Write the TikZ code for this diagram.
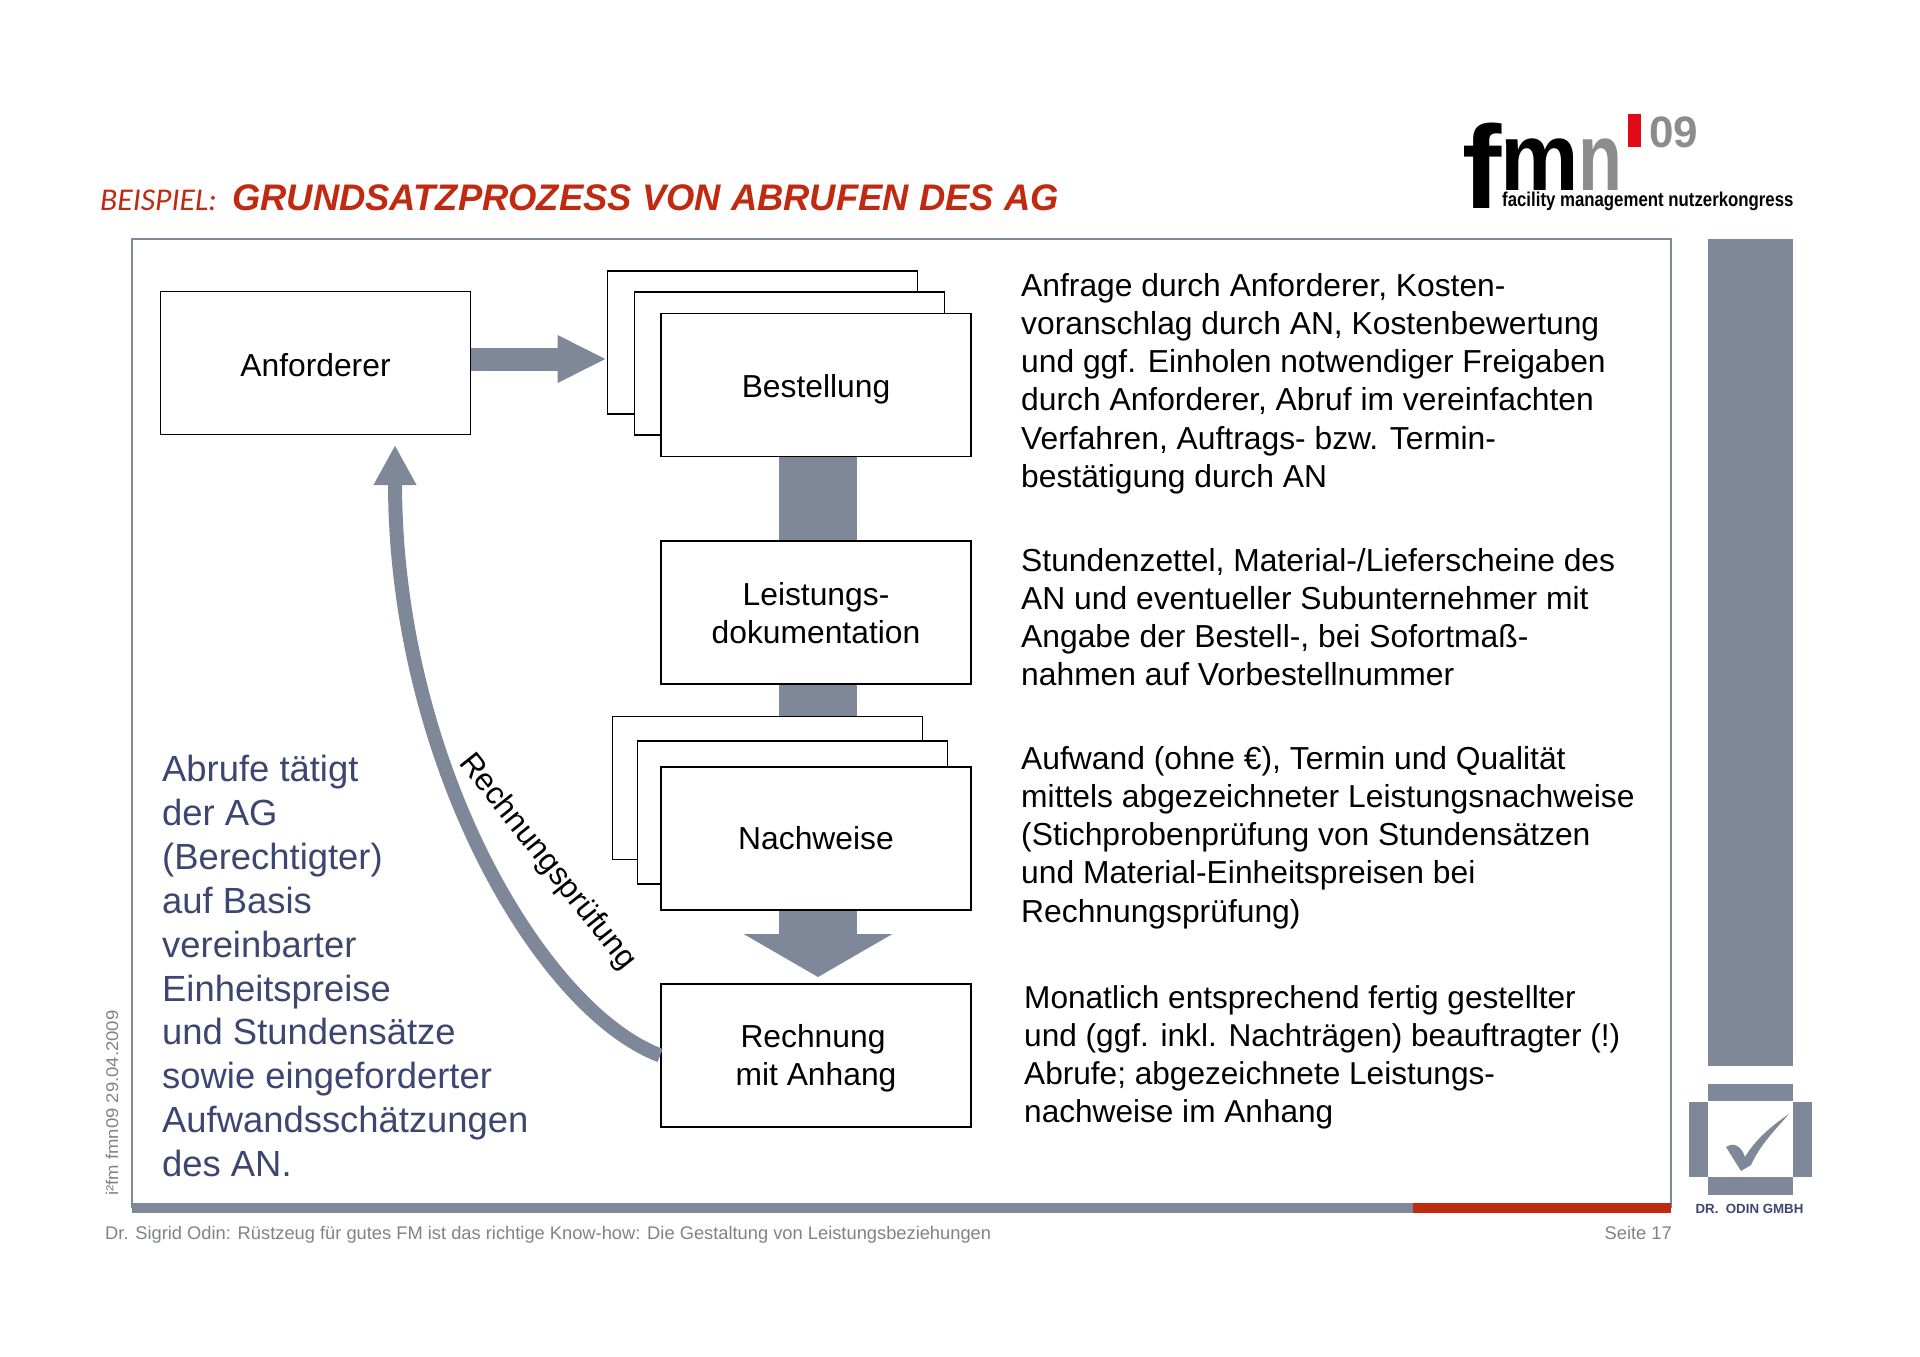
\documentclass[tikz,border=0pt]{standalone}
\usepackage{fontspec}
\setmainfont{Liberation Sans}
\newfontfamily\beispielfont{Carlito}
\usetikzlibrary{positioning,arrows.meta}
\definecolor{bandgray}{HTML}{7E8899}
\definecolor{slideblue}{HTML}{3D4670}
\definecolor{slidered}{HTML}{C02A10}
\definecolor{footgray}{HTML}{7F8288}
\definecolor{logored}{HTML}{E30A17}
\definecolor{logogray}{HTML}{8C8C8C}

\begin{document}
\begin{tikzpicture}[
  x=1pt, y=-1pt,
  node distance=83pt and 50pt,
  box/.style={draw=black, line width=1.8pt, fill=white, minimum height=143pt, minimum width=310pt, font=\fontsize{31.8}{38.2}\selectfont, align=center, inner sep=0pt},
  desc/.style={anchor=north west, inner sep=0pt, align=left, font=\fontsize{31.8}{38.2}\selectfont},
  band/.style={bandgray, line width=78pt},
  thinarrow/.style={bandgray, line width=23pt, -{Triangle[length=49pt, width=44pt]}},
  bigarrow/.style={bandgray, line width=78pt, shorten >=6pt, -{Triangle[length=43pt, width=147pt]}},
  backarrow/.style={bandgray, line width=14pt, -{Triangle[length=40pt, width=40pt]}}
]
  \useasboundingbox (0,0) rectangle (1920,1357);

  % frame and side parts
  \draw[bandgray, line width=1.5pt] (132,1208) -- (132,239) -- (1671,239) -- (1671,1208);
  \fill[bandgray] (132,1203) rectangle (1413,1213);
  \fill[slidered] (1413,1203) rectangle (1671,1213);
  \fill[bandgray] (1708,239) rectangle (1793,1066);
  \fill[bandgray] (1708,1084) rectangle (1793,1101);
  \fill[bandgray] (1689,1102) rectangle (1708,1177);
  \fill[bandgray] (1793,1102) rectangle (1812,1177);
  \fill[bandgray] (1708,1177) rectangle (1793,1195);
  \fill[bandgray] (1789,1114) .. controls (1765,1130) and (1752,1145) .. (1745,1157)
    .. controls (1742,1148) and (1735,1141) .. (1726,1147)
    -- (1741,1171) -- (1751,1165) .. controls (1760,1145) and (1775,1130) .. (1789,1114);
  \node[anchor=base, inner sep=0pt, font=\fontsize{13.3}{13.3}\selectfont\bfseries, text=slideblue] (odin) at (1749.5,1213) {DR.\ \ ODIN GMBH};

  % logo
  \node[anchor=base west, inner sep=0pt, font=\fontsize{118}{118}\selectfont\bfseries] (logof) at (1462,208) {f};
  \node[anchor=base west, inner sep=0pt, font=\fontsize{96}{96}\selectfont\bfseries] (logom) at (1500,190) {\scalebox{0.92}[1]{m}};
  \node[anchor=base west, inner sep=0pt, font=\fontsize{96}{96}\selectfont\bfseries, text=logogray] (logon) at (1578,190) {\scalebox{0.75}[1]{n}};
  \fill[logored] (1628,114) rectangle (1641,147);
  \node[anchor=base west, inner sep=0pt, font=\fontsize{44}{44}\selectfont\bfseries, text=logogray] (logoyear) at (1649,147) {09};
  \node[anchor=base west, inner sep=0pt, font=\fontsize{20}{20}\selectfont\bfseries] (logotag) at (1502,206) {\scalebox{0.84}[1]{facility management nutzerkongress}};

  % title
  \node[anchor=base west, inner sep=0pt, font=\fontsize{31.7}{31.7}\selectfont\beispielfont\itshape, text=slidered] (beispiel) at (100,210) {BEISPIEL:};
  \node[anchor=base west, inner sep=0pt, font=\fontsize{37}{37}\selectfont\bfseries\itshape, text=slidered] (title) at (232,210) {\scalebox{0.984}[1]{GRUNDSATZPROZESS VON ABRUFEN DES AG}};

  % boxes
  \node[box] (anforderer) at (315.5,363) [text height=27pt] {Anforderer};
  \node[box] (bestellunga) at (762.5,342.5) {};
  \node[box] (bestellungb) at (789.5,363.5) {};
  \node[box, text height=25pt, text depth=0pt] (bestellung) at (816,385) {Bestellung};
  \node[box, below=83pt of bestellung] (leistung) {Leistungs-\\dokumentation};
  \node[box] (nachweisea) at (767.5,788) {};
  \node[box] (nachweiseb) at (792.5,812.5) {};
  \node[box, below=81pt of leistung] (nachweise) {Nachweise};
  \node[box, below=72pt of nachweise] (rechnung) {\rule{0pt}{29pt}\hspace{-6pt}Rechnung\\mit Anhang};

  % connectors
  \draw[thinarrow] ([yshift=4pt]anforderer.east) -- ([yshift=4pt]anforderer.east -| bestellunga.west);
  \draw[band] ([xshift=2pt]bestellung.south) -- ([xshift=2pt]leistung.north);
  \draw[band] ([xshift=2pt]leistung.south) -- ([xshift=2pt]leistung.south |- nachweisea.north);
  \draw[bigarrow] ([xshift=2pt]nachweise.south) -- ([xshift=2pt]rechnung.north);
  \coordinate (backend) at (395,445);
  \draw[backarrow] (rechnung.west) .. controls (540,1010) and (395,760) .. (backend);
  \node[rotate=-51.5, inner sep=0pt, font=\fontsize{31.4}{31.4}\selectfont] (pruefung) at (547,862) {Rechnungsprüfung};

  % descriptions
  \node[desc] (textbestellung) at (1021,273) {Anfrage durch Anforderer, Kosten-\\voranschlag durch AN, Kostenbewertung\\und ggf. Einholen notwendiger Freigaben\\durch Anforderer, Abruf im vereinfachten\\Verfahren, Auftrags- bzw. Termin-\\bestätigung durch AN};
  \node[desc] (textleistung) at (1021,548) {Stundenzettel, Material-/Lieferscheine des\\AN und eventueller Subunternehmer mit\\Angabe der Bestell-, bei Sofortmaß-\\nahmen auf Vorbestellnummer};
  \node[desc] (textnachweise) at (1021,746) {Aufwand (ohne €), Termin und Qualität\\mittels abgezeichneter Leistungsnachweise\\(Stichprobenprüfung von Stundensätzen\\und Material-Einheitspreisen bei\\Rechnungsprüfung)};
  \node[desc, font=\fontsize{31.6}{38}\selectfont] (textrechnung) at (1024,985) {Monatlich entsprechend fertig gestellter\\und (ggf. inkl. Nachträgen) beauftragter (!)\\Abrufe; abgezeichnete Leistungs-\\nachweise im Anhang};
  \node[desc, text=slideblue, font=\fontsize{36.4}{43.9}\selectfont] (textabrufe) at (162,755) {Abrufe tätigt\\der AG\\(Berechtigter)\\auf Basis\\vereinbarter\\Einheitspreise\\und Stundensätze\\sowie eingeforderter\\Aufwandsschätzungen\\des AN.};

  % footer
  \node[anchor=base west, inner sep=0pt, font=\fontsize{18.3}{18.3}\selectfont, text=footgray] (foot) at (105,1239) {Dr. Sigrid Odin: Rüstzeug für gutes FM ist das richtige Know-how: Die Gestaltung von Leistungsbeziehungen};
  \node[anchor=base east, inner sep=0pt, font=\fontsize{18.3}{18.3}\selectfont, text=footgray] (seite) at (1672,1239) {Seite 17};
  \node[anchor=base west, rotate=90, inner sep=0pt, font=\fontsize{17}{17}\selectfont, text=footgray] (stamp) at (118,1196) {\scalebox{1.09}[1]{i²fm fmn09 29.04.2009}};
\end{tikzpicture}
\end{document}
